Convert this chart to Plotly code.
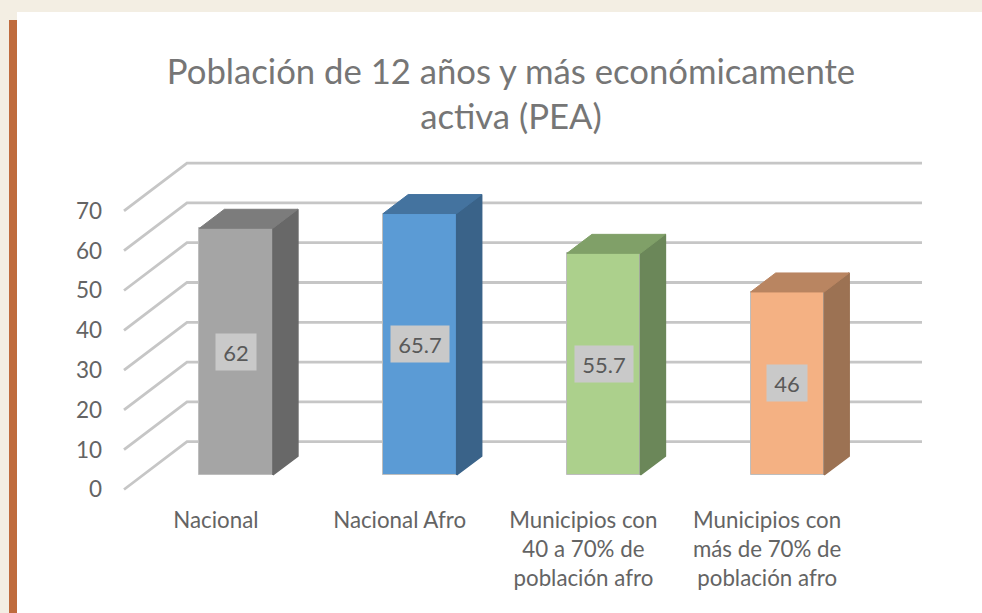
import plotly.graph_objects as go

categories = ["Nacional", "Nacional Afro", "Municipios con<br>40 a 70% de<br>población afro", "Municipios con<br>más de 70% de<br>población afro"]
values = [62, 65.7, 55.7, 46]
value_labels = ["62", "65.7", "55.7", "46"]
y_ticks = [0, 10, 20, 30, 40, 50, 60, 70]
front_colors = ["#A5A5A5", "#5B9BD5", "#ACD08C", "#F4B183"]
top_colors = ["#7C7C7C", "#44739F", "#80A068", "#B98561"]
side_colors = ["#686868", "#3A6389", "#6B8759", "#9C7253"]

FONT = "Lato"
W, H = 982, 613
L, R, T, B = 115, 60, 0, 115
PX_X = 183.75
PX_Y = 3.98
x0 = -(124 - L) / PX_X
x1 = x0 + (W - L - R) / PX_X
y0 = -(H - B - 489.5) / PX_Y
y1 = y0 + (H - T - B) / PX_Y

DX = 63 / PX_X     # floor depth along x, in category units
DY = 47.8 / PX_Y   # floor depth along y, in value units
D_FRONT, D_BACK = 0.303, 0.70
BAR_W = 0.40
BAR_NUDGE = 1.2 / PX_X


def proj(x, v, d):
    return x + DX * d, v + DY * d


def panel(xa, ya, xb, yb, color):
    return dict(type="rect", xref="paper", yref="paper", layer="below", line_width=0, fillcolor=color,
                x0=(xa - L) / (W - L - R), x1=(xb - L) / (W - L - R),
                y0=1 - (ya - T) / (H - T - B), y1=1 - (yb - T) / (H - T - B))


shapes = [panel(17, 12, 982, 613, "#FFFFFF"), panel(9, 20, 17, 613, "#BF6B3D")]
for t in y_ticks:
    ax, ay = proj(0, t, 0)
    bx, by = proj(0, t, 1)
    cx, cy = proj(4, t, 1)
    shapes.append(dict(type="path", layer="below", xref="x", yref="y",
                       path=f"M{ax},{ay} L{bx},{by} L{cx},{cy}",
                       line=dict(color="#C6C6C6", width=2.8)))

fig = go.Figure()
centers = [i + 0.5 for i in range(len(values))]
base = proj(0, 0, D_FRONT)[1]
fig.add_trace(go.Bar(
    x=[proj(c, 0, D_FRONT)[0] + BAR_NUDGE for c in centers], y=values, base=[base] * len(values), width=BAR_W,
    marker=dict(color=front_colors, line=dict(color="#BDBDBD", width=1)), hoverinfo="skip", showlegend=False))

annotations = []
for c, v, lab, top, side in zip(centers, values, value_labels, top_colors, side_colors):
    xa = proj(c - BAR_W / 2, 0, D_FRONT)[0] + BAR_NUDGE
    xb = xa + BAR_W
    sx = (D_BACK - D_FRONT) * DX
    sy = (D_BACK - D_FRONT) * DY
    yb = base
    yt = base + v
    fig.add_trace(go.Scatter(x=[xb, xb + sx, xb + sx, xb, xb], y=[yb, yb + sy, yt + sy, yt, yb], mode="lines",
                             fill="toself", fillcolor=side, line=dict(width=1.5, color=side),
                             hoverinfo="skip", showlegend=False))
    fig.add_trace(go.Scatter(x=[xa, xa + sx, xb + sx, xb, xa], y=[yt, yt + sy, yt + sy, yt, yt], mode="lines",
                             fill="toself", fillcolor=top, line=dict(width=1, color=top),
                             hoverinfo="skip", showlegend=False))
    annotations.append(dict(x=(xa + xb) / 2, y=base + v / 2, text=lab, showarrow=False, xref="x", yref="y",
                            font=dict(family=FONT, size=22, color="#595959"), bgcolor="#C9C9C9",
                            width=20 + 9 * len(lab), height=34, align="center", valign="middle"))

fig.update_layout(
    width=W, height=H, autosize=False,
    margin=dict(l=L, r=R, t=T, b=B, autoexpand=False),
    paper_bgcolor="#F3EEE3", plot_bgcolor="rgba(0,0,0,0)",
    shapes=shapes, annotations=annotations, bargap=0,
    title=dict(text="Población de 12 años y más económicamente<br>activa (PEA)",
               x=511 / W, xref="container", xanchor="center",
               y=1 - 83.5 / H, yanchor="top", yref="container",
               font=dict(family=FONT, size=34.7, color="#767676"), pad=dict(t=0, b=0)),
    xaxis=dict(range=[x0, x1], tickvals=centers, ticktext=categories,
               showgrid=False, zeroline=False, showline=False, ticks="", ticklabelstandoff=7,
               tickfont=dict(family=FONT, size=22.3, color="#646464"), tickangle=0, fixedrange=True),
    yaxis=dict(range=[y0, y1], tickvals=y_ticks, showgrid=False, zeroline=False, showline=False, ticks="",
               ticklabelstandoff=12, tickfont=dict(family=FONT, size=22.5, color="#646464"), fixedrange=True),
)
fig.write_html("out.html", config=dict(displayModeBar=False),
               post_script="document.body.style.margin='0';document.body.style.overflow='hidden';")
